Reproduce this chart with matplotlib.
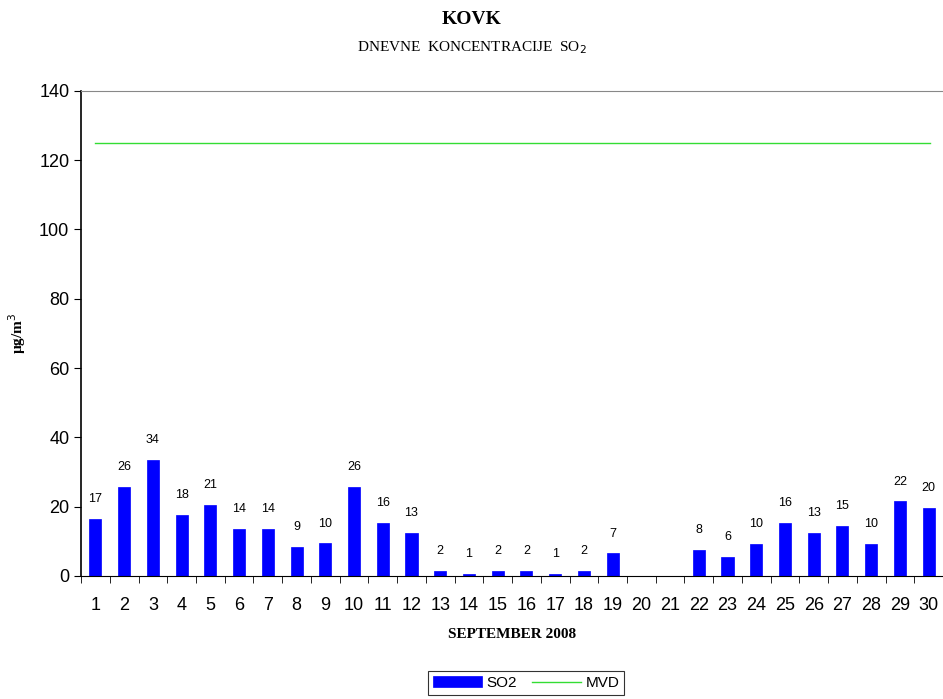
import numpy as np
import matplotlib.pyplot as plt

# daily SO2 concentrations, September 2008 (days 20, 21 missing)
days = list(range(1, 31))
so2 = [16.5, 25.6, 33.6, 17.7, 20.5, 13.5, 13.5, 8.4, 9.4, 25.6,
       15.4, 12.5, 1.5, 0.5, 1.5, 1.5, 0.6, 1.5, 6.5, np.nan,
       np.nan, 7.5, 5.5, 9.3, 15.4, 12.5, 14.5, 9.3, 21.5, 19.6]
labels = ['17', '26', '34', '18', '21', '14', '14', '9', '10', '26',
          '16', '13', '2', '1', '2', '2', '1', '2', '7', '',
          '', '8', '6', '10', '16', '13', '15', '10', '22', '20']
mvd = 125

plt.rc('font', family='Liberation Sans', size=13)

fig = plt.figure(figsize=(9.43, 6.99), dpi=100)
ax = fig.add_axes([0.086, 0.176, 0.914, 0.694])

x = np.arange(len(days))
ax.bar(x, so2, width=0.42, color='#0000ff', edgecolor='#0000ff', linewidth=0.5, label='SO2')
for xi, v, lab in zip(x, so2, labels):
    if lab:
        ax.text(xi, v + 4, lab, ha='center', va='bottom', fontsize=9)

ax.plot([x[0] - 0.02, x[-1] + 0.05], [mvd, mvd], color='#33dd33', linewidth=1, label='MVD')

ax.set_xlim(-0.5, len(days) - 0.5)
ax.set_ylim(0, 140)
ax.set_yticks(range(0, 141, 20))
ax.set_xticks(x)
ax.set_xticklabels([str(d) for d in days])
ax.set_xticks(np.arange(-0.5, len(days), 1), minor=True)
ax.tick_params(axis='x', which='major', length=0, pad=15)
ax.tick_params(axis='x', which='minor', length=5, direction='out')
ax.tick_params(axis='y', length=5, direction='out')

ax.spines['right'].set_visible(False)
ax.spines['top'].set_color('#888888')
ax.spines['left'].set_linewidth(1.2)

ax.set_xlabel('SEPTEMBER 2008', family='Liberation Serif', fontweight='bold', fontsize=11, labelpad=10)
ax.set_ylabel('µg/m$^3$', family='Liberation Serif', fontweight='bold', fontsize=11, labelpad=8)

fig.text(0.5, 0.972, 'KOVK', ha='center', va='center', family='Liberation Serif', fontweight='bold', fontsize=14)
fig.text(0.5, 0.932, 'DNEVNE  KONCENTRACIJE  SO$_2$', ha='center', va='center', family='Liberation Serif', fontsize=11)

handles, names = ax.get_legend_handles_labels()
order = [names.index('SO2'), names.index('MVD')]
leg = fig.legend([handles[i] for i in order], [names[i] for i in order],
                 loc='center', bbox_to_anchor=(0.558, 0.023), ncol=2, frameon=True, fancybox=False,
                 edgecolor='black', fontsize=11, handlelength=3.2, columnspacing=1.0, borderpad=0.3,
                 handletextpad=0.3)
leg.get_frame().set_linewidth(0.8)

fig.savefig('out.png', dpi=100)
